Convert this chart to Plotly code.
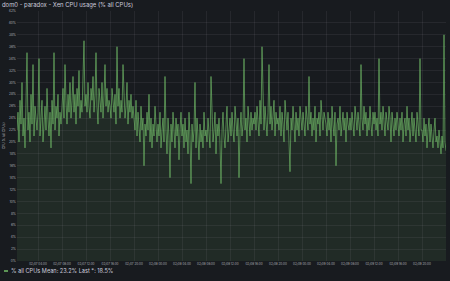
import pandas as pd
import plotly.graph_objects as go

start_time = "2023-02-07 00:30"
step = "10min"

cpu_pct = [
    # 00:30-03:50
    22, 25, 20, 27, 23, 30, 21, 24, 19, 26, 35, 22, 25, 20, 28, 23, 33, 21, 26, 24, 22,
    # 02/07 04-08
    25, 34, 21, 24, 27, 20, 23, 26, 22, 29, 24, 21, 25, 19, 27, 23, 35, 22, 26, 24, 28, 21, 25, 23,
    # 08-12
    26, 29, 24, 33, 27, 23, 28, 25, 30, 24, 27, 31, 25, 28, 23, 29, 26, 32, 24, 27, 25, 30, 37, 26,
    # 12-16
    28, 25, 30, 26, 24, 29, 27, 31, 25, 28, 35, 26, 23, 29, 27, 25, 30, 24, 28, 33, 26, 29, 25, 27,
    # 16-20
    26, 24, 29, 27, 25, 28, 23, 36, 26, 29, 24, 27, 25, 33, 28, 24, 26, 30, 23, 27, 25, 28, 24, 26,
    # 20-24
    24, 22, 27, 21, 25, 23, 20, 26, 22, 24, 16, 23, 21, 25, 22, 28, 20, 24, 19, 23, 21, 26, 22, 20,
    # 02/08 00-04
    23, 21, 25, 19, 22, 24, 20, 31, 22, 18, 24, 21, 14, 23, 20, 25, 22, 19, 24, 21, 23, 17, 22, 25,
    # 04-08
    21, 23, 19, 24, 20, 22, 18, 25, 21, 13, 23, 20, 22, 30, 19, 24, 21, 17, 23, 20, 22, 19, 25, 21,
    # 08-12
    22, 20, 24, 21, 19, 31, 23, 20, 22, 25, 18, 23, 21, 24, 20, 13, 22, 25, 21, 19, 23, 26, 20, 22,
    # 12-16
    24, 21, 25, 22, 20, 26, 23, 21, 24, 14, 22, 25, 21, 23, 34, 22, 24, 20, 26, 23, 21, 25, 22, 24,
    # 16-20
    23, 25, 22, 26, 24, 21, 27, 23, 36, 25, 22, 26, 24, 21, 25, 33, 23, 26, 22, 24, 27, 21, 25, 23,
    # 20-24
    24, 22, 26, 21, 25, 23, 20, 27, 24, 22, 25, 21, 15, 24, 22, 26, 23, 20, 25, 22, 24, 21, 26, 23,
    # 02/09 00-04
    22, 25, 23, 21, 26, 24, 22, 31, 23, 25, 21, 24, 22, 26, 20, 24, 23, 25, 21, 27, 23, 22, 25, 24,
    # 04-08
    23, 21, 25, 22, 24, 20, 26, 23, 21, 25, 16, 23, 24, 22, 26, 21, 23, 25, 22, 24, 20, 25, 23, 22,
    # 08-12
    24, 22, 25, 23, 21, 26, 24, 22, 25, 23, 21, 33, 24, 22, 26, 23, 25, 21, 24, 22, 26, 23, 21, 25,
    # 12-16
    23, 25, 22, 24, 21, 34, 23, 25, 22, 26, 24, 21, 25, 23, 22, 26, 24, 20, 25, 23, 21, 24, 22, 25,
    # 16-20
    23, 21, 24, 22, 25, 20, 23, 24, 21, 26, 22, 24, 20, 23, 25, 21, 24, 22, 20, 25, 23, 21, 34, 22,
    # 20-24
    22, 20, 24, 21, 23, 19, 22, 24, 20, 23, 21, 19, 22, 24, 20, 21, 19, 22, 20, 18, 21, 19, 38, 20,
    # 02/10 00:00
    18.5,
]

times = pd.date_range(start_time, periods=len(cpu_pct), freq=step)

title_text = "dom0 - paradox - Xen CPU usage (% all CPUs)"
series_name = "% all CPUs"
legend_text = "% all CPUs Mean: 23.2% Last *: 18.5%"
y_axis_label = "CPU % (all CPUs)"
y_ticks = list(range(0, 43, 2))
y_tick_labels = [f"{v}%" for v in y_ticks]

GREEN = "#73BF69"
BG = "#181b1f"
TXT = "#ccccdc"
GRID = "rgba(204,204,220,0.08)"

W, H = 450, 281
L, R, T, B = 17, 4, 11, 20
pw, ph = W - L - R, H - T - B

fig = go.Figure()
fig.add_trace(go.Scatter(
    x=times, y=cpu_pct, mode="lines", name=series_name,
    line=dict(color="rgba(115,191,105,0.9)", width=0.7),
    fill="tozeroy", fillcolor="rgba(115,191,105,0.10)",
    showlegend=False,
))

fig.update_layout(
    width=W, height=H,
    margin=dict(l=L, r=R, t=T, b=B),
    paper_bgcolor=BG, plot_bgcolor=BG,
    font=dict(family="Inter", color=TXT),
    title=dict(text=title_text, x=2 / W, xanchor="left", xref="container",
               y=1 - 5 / H, yanchor="middle", yref="container",
               font=dict(size=5.9, color=TXT)),
    xaxis=dict(
        range=[times[0], times[-1]],
        tickformat="%m/%d %H:%M", dtick=4 * 3600 * 1000,
        tick0="2023-02-07 00:00",
        showgrid=True, gridcolor=GRID, gridwidth=1,
        zeroline=False, showline=False, ticks="",
        tickfont=dict(size=3, color="#b0b2b8"),
    ),
    yaxis=dict(
        range=[0, 42], tickvals=y_ticks, ticktext=y_tick_labels,
        showgrid=True, gridcolor=GRID, gridwidth=1,
        zeroline=False, showline=False, ticks="",
        tickfont=dict(size=3.2, color="#b0b2b8"),
    ),
)

# y-axis label (rotated)
fig.add_annotation(
    text=y_axis_label, textangle=-90, showarrow=False,
    xref="paper", yref="paper", x=-13 / pw, y=0.5,
    xanchor="center", yanchor="middle",
    font=dict(size=3.2, color="#b0b2b8"),
)

# legend marker + text
fig.add_shape(type="line", xref="paper", yref="paper",
              x0=-13 / pw, x1=-9 / pw, y0=-10 / ph, y1=-10 / ph,
              line=dict(color=GREEN, width=1.5))
fig.add_annotation(
    text=legend_text, showarrow=False,
    xref="paper", yref="paper", x=-8 / pw, y=-10 / ph,
    xanchor="left", yanchor="middle",
    font=dict(size=5.6, color=TXT),
)

fig.write_html("out.html")
